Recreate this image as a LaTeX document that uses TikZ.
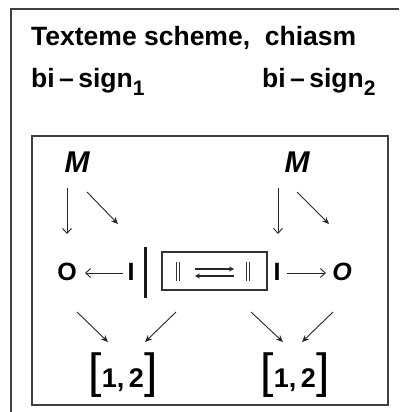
\documentclass[tikz,border=0pt]{standalone}
\usepackage{fontspec}
\setmainfont{Liberation Sans}
\usetikzlibrary{arrows.meta}
\begin{document}
\begin{tikzpicture}[x=1pt,y=-1pt,
 lbl/.style={inner sep=0pt, font=\fontsize{26.5}{26.5}\selectfont\bfseries},
 mlbl/.style={inner sep=0pt, font=\fontsize{30}{30}\selectfont\bfseries\itshape},
 olbl/.style={inner sep=0pt, font=\fontsize{25}{25}\selectfont\bfseries},
 arr/.style={line width=0.9pt, -{Straight Barb[length=5pt,width=9pt]}, draw=black!85},
 darr/.style={line width=0.9pt, -{Stealth[length=7pt,width=6pt]}, draw=black!85},
 frame/.style={line width=1.6pt, draw=black!75},
 dbar/.style={line width=0.7pt, draw=black!80}]
\useasboundingbox (0,0) rectangle (399,412);
\coordinate (ftr) at (399,9);
\coordinate (ftl) at (11,9);
\coordinate (fbl) at (11,412);
\draw[frame] (ftr) -- (ftl) -- (fbl);
% titles
\node[lbl, anchor=base west] (title) at (31,46) {Texteme scheme,\ \ chiasm};
\node[lbl, anchor=base west] (bs1) at (31,88) {bi\,–\,sign\raisebox{-7pt}{\fontsize{21}{21}\selectfont 1}};
\node[lbl, anchor=base west] (bs2) at (262,88) {bi\,–\,sign\raisebox{-7pt}{\fontsize{21}{21}\selectfont 2}};
% inner box
\node[frame, draw, minimum width=356pt, minimum height=269pt, inner sep=0pt] (inner) at (210,270.5) {};
% M nodes
\node[mlbl] (M1) at (77,162) {M};
\node[mlbl] (M2) at (297,162) {M};
% row
\node[olbl] (O1) at (67,272) {O};
\node[olbl] (I1) at (131,272) {I};
\node[olbl] (I2) at (277,272) {I};
\node[olbl, font=\fontsize{25}{25}\selectfont\bfseries\itshape] (O2) at (342,272) {O};
\coordinate (bart) at (145,247);
\coordinate (barb) at (145,298);
\draw[line width=3pt, draw=black!90] (bart) -- (barb);
\node[draw, line width=1.3pt, draw=black!80, minimum width=105pt, minimum height=38pt, inner sep=0pt] (box) at (214.5,271) {};
% double bars in box
\coordinate (d1a) at (176.5,262); \coordinate (d1b) at (176.5,281);
\coordinate (d1c) at (179.5,262); \coordinate (d1d) at (179.5,281);
\coordinate (d2a) at (246.5,262); \coordinate (d2b) at (246.5,281);
\coordinate (d2c) at (249.5,262); \coordinate (d2d) at (249.5,281);
\draw[dbar] (d1a) -- (d1b); \draw[dbar] (d1c) -- (d1d);
\draw[dbar] (d2a) -- (d2b); \draw[dbar] (d2c) -- (d2d);
\coordinate (h1s) at (195,269); \coordinate (h1e) at (234,269);
\coordinate (h2s) at (234,276); \coordinate (h2e) at (195,276);
\draw[darr, line width=1.2pt, -{Stealth[length=5pt,width=5pt]}] (h1s) -- (h1e);
\draw[darr, line width=1.2pt, -{Stealth[length=5pt,width=5pt]}] (h2s) -- (h2e);
% horizontal arrows
\coordinate (a1s) at (123,273); \coordinate (a1e) at (85,273);
\coordinate (a2s) at (287,273); \coordinate (a2e) at (326,273);
\draw[arr] (a1s) -- (a1e);
\draw[arr] (a2s) -- (a2e);
% M arrows
\coordinate (m1d1) at (67,188); \coordinate (m1d2) at (67,234);
\coordinate (m1g1) at (87,192); \coordinate (m1g2) at (118,224);
\coordinate (m2d1) at (278,188); \coordinate (m2d2) at (278,234);
\coordinate (m2g1) at (297,192); \coordinate (m2g2) at (329,224);
\draw[arr] (m1d1) -- (m1d2);
\draw[darr] (m1g1) -- (m1g2);
\draw[arr] (m2d1) -- (m2d2);
\draw[darr] (m2g1) -- (m2g2);
% bottom
\node[lbl, font=\fontsize{27}{27}\selectfont\bfseries] (B1) at (123,375) {{\fontsize{48}{48}\selectfont\mdseries[}1,\,2{\fontsize{48}{48}\selectfont\mdseries]}};
\node[lbl, font=\fontsize{27}{27}\selectfont\bfseries] (B2) at (295,375) {{\fontsize{48}{48}\selectfont\mdseries[}1,\,2{\fontsize{48}{48}\selectfont\mdseries]}};
\coordinate (b1a) at (77,312); \coordinate (b1b) at (108,342);
\coordinate (b1c) at (176,312); \coordinate (b1d) at (145,342);
\coordinate (b2a) at (251,312); \coordinate (b2b) at (283,342);
\coordinate (b2c) at (333,312); \coordinate (b2d) at (302,342);
\draw[darr] (b1a) -- (b1b);
\draw[darr] (b1c) -- (b1d);
\draw[darr] (b2a) -- (b2b);
\draw[darr] (b2c) -- (b2d);
\end{tikzpicture}
\end{document}
